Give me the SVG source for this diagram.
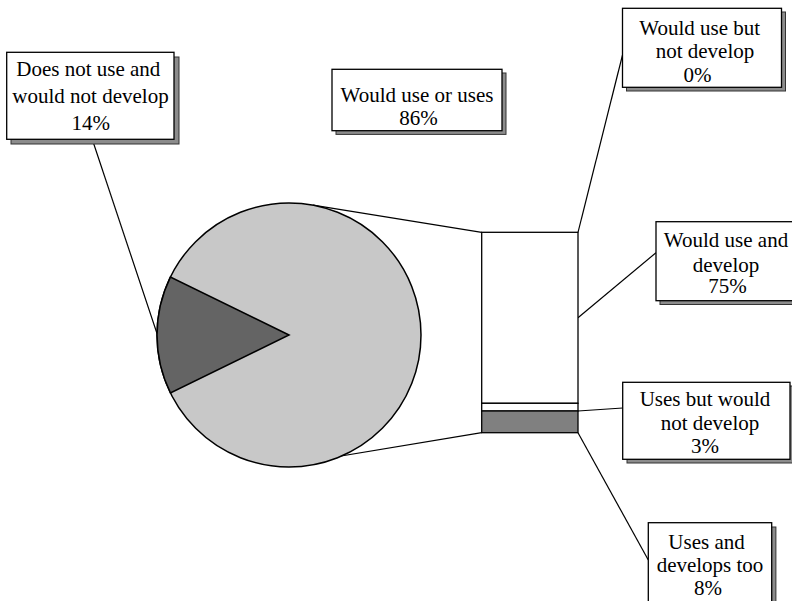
<svg xmlns="http://www.w3.org/2000/svg" width="792" height="601" viewBox="0 0 792 601">
<style>
.box{fill:#fff;stroke:#000;stroke-width:1.3}
.sh{fill:#8c8c8c;stroke:#333;stroke-width:1}
.t{font-size:21px;fill:#000;text-anchor:middle}
.ln{stroke:#000;stroke-width:1.2;fill:none}
</style>
<rect width="792" height="601" fill="#fff"/>
<g id="connectors">
<line class="ln" x1="93.3" y1="142.5" x2="157" y2="333.5"/>
<line class="ln" x1="313" y1="205.2" x2="481.7" y2="232.3"/>
<line class="ln" x1="323" y1="459" x2="481.7" y2="432.7"/>
<line class="ln" x1="578" y1="232.3" x2="622.5" y2="55"/>
<line class="ln" x1="578" y1="317.7" x2="656" y2="252.7"/>
<line class="ln" x1="578" y1="411" x2="622.7" y2="408"/>
<line class="ln" x1="578" y1="432.7" x2="648.3" y2="560"/>
</g>
<g id="pie">
<circle cx="289" cy="335" r="132" fill="#c8c8c8" stroke="#000" stroke-width="1.5"/>
<path d="M289,335 L170.4,277.1 A132,132 0 0,0 170.4,392.9 Z" fill="#646464" stroke="#000" stroke-width="1.5"/>
</g>
<g id="bar">
<rect x="481.7" y="232.3" width="96.3" height="171" fill="#fff" stroke="#000" stroke-width="1.3"/>
<rect x="481.7" y="403.3" width="96.3" height="7.7" fill="#fff" stroke="#000" stroke-width="1.3"/>
<rect x="481.7" y="411" width="96.3" height="21.7" fill="#808080" stroke="#000" stroke-width="1.3"/>
</g>
<g font-family="Liberation Serif, Times New Roman, Times, DejaVu Serif, serif">
<g id="n-does-not-use">
<rect class="sh" x="11" y="57" width="168" height="87"/>
<rect class="box" x="6.7" y="52.3" width="167.3" height="87"/>
<text class="t" x="88.3" y="76">Does not use and</text>
<text class="t" x="90.5" y="103">would not develop</text>
<text class="t" x="90.8" y="130">14%</text>
</g>
<g id="n-would-use-or-uses">
<rect class="sh" x="336" y="73" width="170" height="61.4"/>
<rect class="box" x="332" y="69.3" width="170" height="61.4"/>
<text class="t" x="417" y="101.7">Would use or uses</text>
<text class="t" x="418.5" y="125">86%</text>
</g>
<g id="n-would-use-not-develop">
<rect class="sh" x="626.5" y="12" width="159" height="79"/>
<rect class="box" x="622.5" y="8.3" width="159" height="79"/>
<text class="t" x="699.7" y="35">Would use but</text>
<text class="t" x="705" y="58">not develop</text>
<text class="t" x="697.5" y="81.5">0%</text>
</g>
<g id="n-would-use-and-develop">
<rect class="sh" x="660" y="225.5" width="140" height="79"/>
<rect class="box" x="656" y="221.7" width="140" height="79"/>
<text class="t" x="726" y="246.7">Would use and</text>
<text class="t" x="726" y="271.7">develop</text>
<text class="t" x="727.5" y="293.3">75%</text>
</g>
<g id="n-uses-not-develop">
<rect class="sh" x="627" y="386" width="167.3" height="77"/>
<rect class="box" x="622.7" y="382.3" width="167.3" height="77"/>
<text class="t" x="705" y="405.5">Uses but would</text>
<text class="t" x="710" y="430">not develop</text>
<text class="t" x="705" y="452.5">3%</text>
</g>
<g id="n-uses-and-develops">
<rect class="sh" x="652.5" y="527" width="123.4" height="90"/>
<rect class="box" x="648.3" y="522.7" width="123.4" height="90"/>
<text class="t" x="706.5" y="549">Uses and</text>
<text class="t" x="710" y="572">develops too</text>
<text class="t" x="708" y="594.5">8%</text>
</g>
</g>
</svg>
